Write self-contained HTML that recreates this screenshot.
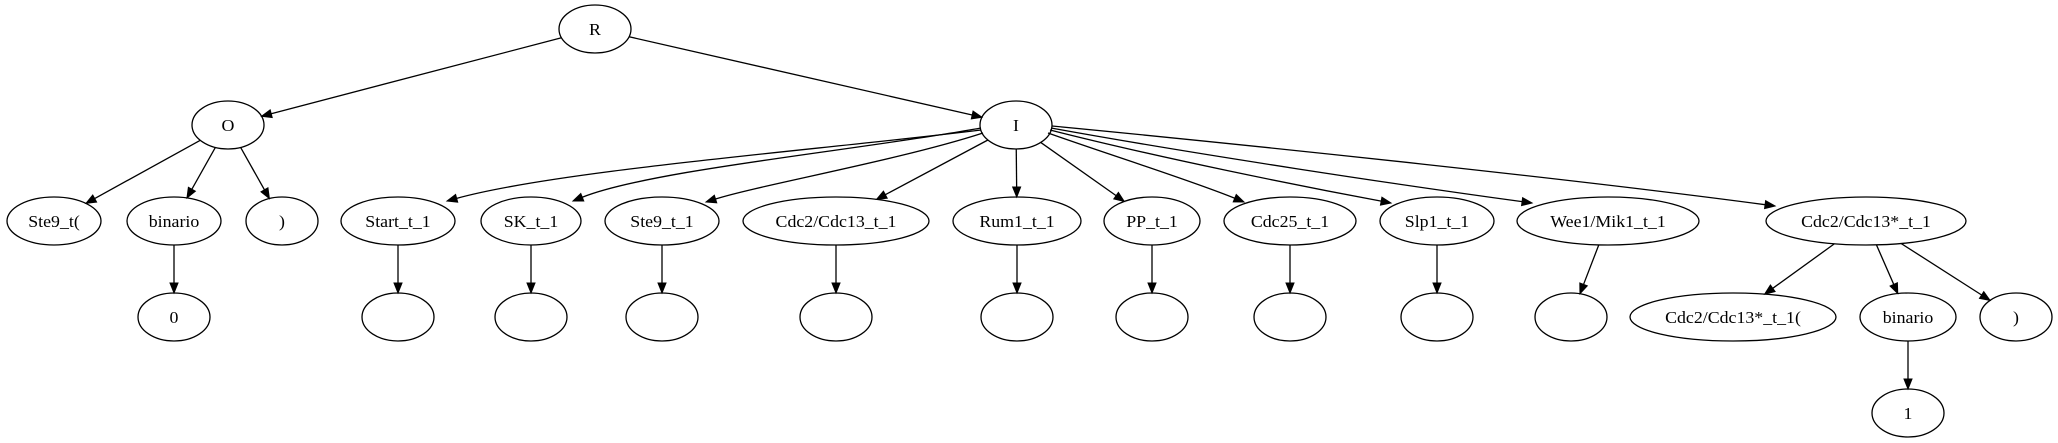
<!DOCTYPE html>
<html><head><meta charset="utf-8"><style>
html,body{margin:0;padding:0;background:#fff;width:2058px;height:443px;overflow:hidden}
svg text{font-family:"Liberation Serif",serif;font-size:17px}
</style></head><body>
<svg id="s" width="2058" height="443" xmlns="http://www.w3.org/2000/svg">
<rect width="2058" height="443" fill="#fff"/>
<g id="edges"></g><g id="nodes"></g>
<g id="labels" text-anchor="middle" fill="#000">
<text data-n="R">R</text>
<text data-n="O">O</text>
<text data-n="I">I</text>
<text data-n="a1">Ste9_t(</text>
<text data-n="a2">binario</text>
<text data-n="a3">)</text>
<text data-n="a4">0</text>
<text data-n="b1">Start_t_1</text>
<text data-n="b2">SK_t_1</text>
<text data-n="b3">Ste9_t_1</text>
<text data-n="b4">Cdc2/Cdc13_t_1</text>
<text data-n="b5">Rum1_t_1</text>
<text data-n="b6">PP_t_1</text>
<text data-n="b7">Cdc25_t_1</text>
<text data-n="b8">Slp1_t_1</text>
<text data-n="b9">Wee1/Mik1_t_1</text>
<text data-n="b10">Cdc2/Cdc13*_t_1</text>
<text data-n="d1">Cdc2/Cdc13*_t_1(</text>
<text data-n="d2">binario</text>
<text data-n="d3">)</text>
<text data-n="d4">1</text>
</g>
</svg>
<script>
var N={R:[595,29,36],O:[228,125,36],I:[1016,125,36],
a1:[54,221,47],a2:[174,221,47],a3:[282,221,36],a4:[174,317,36],
b1:[398,221,57],b2:[531,221,50],b3:[662,221,57],b4:[836,221,93],b5:[1017,221,64],
b6:[1152,221,48],b7:[1290,221,66],b8:[1437,221,57],b9:[1608,221,91],b10:[1866,221,100],
c1:[398,317,36],c2:[531,317,36],c3:[662,317,36],c4:[836,317,36],c5:[1017,317,36],
c6:[1152,317,36],c7:[1290,317,36],c8:[1437,317,36],c9:[1571,317,36],
d1:[1733,317,103],d2:[1908,317,48],d3:[2016,317,36],d4:[1908,413,36]};
var E=[["R","O"],["R","I"],["O","a1"],["O","a2"],["O","a3"],["a2","a4"],
["I","b4"],["I","b5"],["I","b6"],
["b1","c1"],["b2","c2"],["b3","c3"],["b4","c4"],["b5","c5"],["b6","c6"],["b7","c7"],["b8","c8"],["b9","c9"],
["b10","d1"],["b10","d2"],["b10","d3"],["d2","d4"]];
var C=[
[[981,130],[820,150],[560,170],[447,201]],
[[981,128],[860,150],[650,170],[573,201]],
[[983,133],[900,160],[760,185],[706,202]],
[[1048,133],[1110,155],[1190,180],[1244,202]],
[[1050,130],[1160,158],[1300,186],[1391,203]],
[[1051,128],[1200,155],[1400,185],[1532,203]],
[[1052,126],[1280,148],[1580,180],[1775,206]]];
var RY=24,ns="http://www.w3.org/2000/svg";
var eg=document.getElementById("edges"),ng=document.getElementById("nodes");
function bd(n,dx,dy){var a=N[n][2],l=Math.sqrt(dx*dx/(a*a)+dy*dy/(RY*RY));return [N[n][0]+dx/l,N[n][1]+dy/l];}
function head(q,fx,fy){var ux=q[0]-fx,uy=q[1]-fy,L=Math.hypot(ux,uy);ux/=L;uy/=L;
var bx=q[0]-ux*10,by=q[1]-uy*10;
var h=document.createElementNS(ns,"polygon");
h.setAttribute("points",q[0]+","+q[1]+" "+(bx-uy*4)+","+(by+ux*4)+" "+(bx+uy*4)+","+(by-ux*4));
h.setAttribute("fill","#000");h.setAttribute("stroke","#000");eg.appendChild(h);return [bx,by];}
E.forEach(function(e){var s=N[e[0]],t=N[e[1]];var dx=t[0]-s[0],dy=t[1]-s[1];
var p=bd(e[0],dx,dy),q=bd(e[1],-dx,-dy);var b=head(q,p[0],p[1]);
var l=document.createElementNS(ns,"line");l.setAttribute("x1",p[0]);l.setAttribute("y1",p[1]);l.setAttribute("x2",b[0]);l.setAttribute("y2",b[1]);
l.setAttribute("stroke","#000");l.setAttribute("stroke-width","1.3");eg.appendChild(l);});
C.forEach(function(c){var b=head(c[3],c[2][0],c[2][1]);
var p=document.createElementNS(ns,"path");
p.setAttribute("d","M"+c[0]+" C"+c[1]+" "+c[2]+" "+b);
p.setAttribute("fill","none");p.setAttribute("stroke","#000");p.setAttribute("stroke-width","1.3");eg.appendChild(p);});
for(var k in N){var el=document.createElementNS(ns,"ellipse");el.setAttribute("cx",N[k][0]);el.setAttribute("cy",N[k][1]);
el.setAttribute("rx",N[k][2]);el.setAttribute("ry",RY);el.setAttribute("fill","none");el.setAttribute("stroke","#000");el.setAttribute("stroke-width","1.3");ng.appendChild(el);}
document.querySelectorAll("#labels text").forEach(function(t){var n=N[t.getAttribute("data-n")];
t.setAttribute("transform","translate("+n[0]+","+(n[1]+6)+") scale(1.05,1)");});
</script>
</body></html>
